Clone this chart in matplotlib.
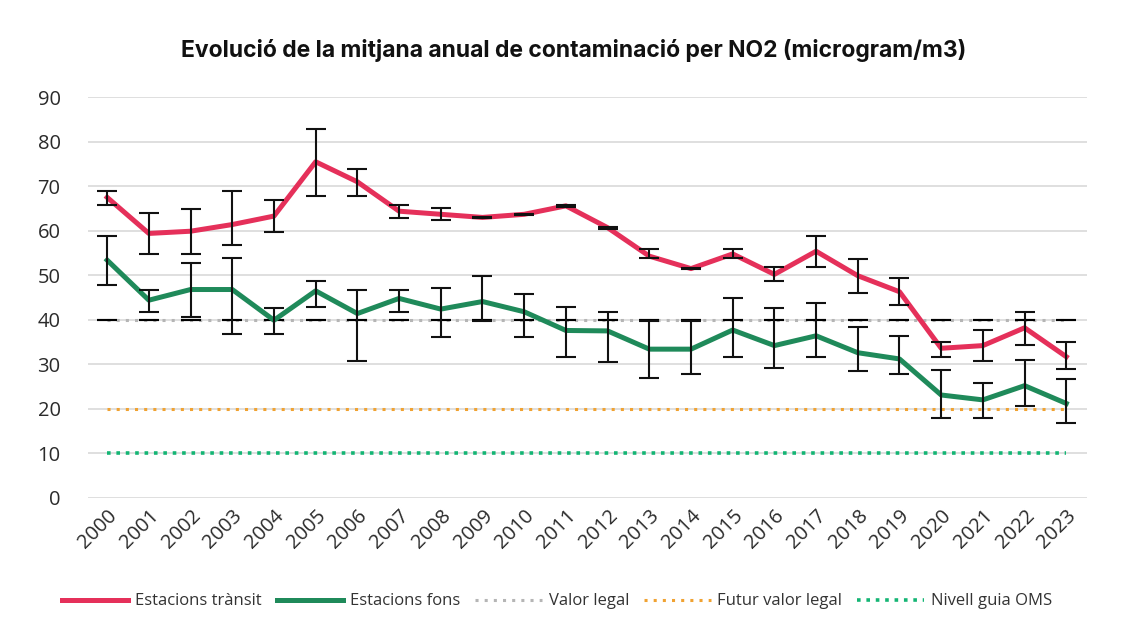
import numpy as np
import matplotlib.pyplot as plt

# -----------------------------
#  Dades
# -----------------------------
anys = np.arange(2000, 2024)

transit = [67.5, 59.4, 59.9, 61.4, 63.3, 75.5, 71.0, 64.4, 63.7, 63.0, 63.7, 65.6,
           60.7, 54.3, 51.5, 54.8, 50.2, 55.4, 49.9, 46.3, 33.6, 34.2, 38.2, 31.7]
transit_max = [68.9, 63.9, 64.9, 68.9, 66.9, 82.8, 73.8, 65.9, 65.2, 63.1, 63.8, 65.9,
               60.9, 55.8, 51.6, 55.8, 51.8, 58.8, 53.6, 49.3, 35.1, 37.7, 41.8, 34.9]
transit_min = [65.8, 54.8, 54.8, 56.8, 59.8, 67.8, 67.8, 62.9, 62.4, 62.9, 63.6, 65.3,
               60.5, 53.8, 51.4, 53.8, 48.8, 51.9, 46.1, 43.3, 31.7, 30.7, 34.3, 28.9]

fons = [53.4, 44.4, 46.8, 46.8, 39.9, 46.5, 41.4, 44.8, 42.4, 44.1, 41.8, 37.6,
        37.5, 33.4, 33.4, 37.7, 34.2, 36.4, 32.6, 31.2, 23.1, 22.0, 25.2, 21.2]
fons_max = [58.8, 46.7, 52.8, 53.9, 42.7, 48.8, 46.8, 46.7, 47.2, 49.9, 45.7, 42.8,
            41.8, 39.8, 39.8, 44.8, 42.7, 43.8, 38.4, 36.4, 28.7, 25.7, 31.0, 26.7]
fons_min = [47.8, 41.8, 40.7, 36.8, 36.8, 42.8, 30.8, 41.8, 36.2, 39.8, 36.2, 31.7,
            30.6, 27.0, 27.8, 31.7, 29.1, 31.7, 28.5, 27.8, 18.0, 17.9, 20.7, 16.8]

valor_legal = 40
futur_valor_legal = 20
guia_oms = 10

transit = np.array(transit)
fons = np.array(fons)
err_transit = [transit - np.array(transit_min), np.array(transit_max) - transit]
err_fons = [fons - np.array(fons_min), np.array(fons_max) - fons]

# -----------------------------
#  Gràfic
# -----------------------------
plt.rcParams['font.family'] = ['Open Sans', 'DejaVu Sans']

fig = plt.figure(figsize=(11.48, 6.44), dpi=100)
ax = fig.add_axes([0.077, 0.227, 0.870, 0.622])

vermell = "#e5305a"
verd = "#1f8a5a"

ax.plot(anys, np.full(len(anys), valor_legal), color="#b5b5b5", lw=2.2,
        linestyle=(0, (1, 2)), label="Valor legal", zorder=2)
ax.errorbar(anys, np.full(len(anys), valor_legal), yerr=0, fmt="none",
            ecolor="black", capsize=7, capthick=1.5, zorder=3)
ax.plot(anys, np.full(len(anys), futur_valor_legal), color="#f0a232", lw=2.2,
        linestyle=(0, (1, 2)), label="Futur valor legal", zorder=2)
ax.plot(anys, np.full(len(anys), guia_oms), color="#14b574", lw=2.6,
        linestyle=(0, (1, 1.6)), label="Nivell guia OMS", zorder=2)

ax.plot(anys, transit, color=vermell, lw=3.6, label="Estacions trànsit", zorder=4)
ax.plot(anys, fons, color=verd, lw=3.6, label="Estacions fons", zorder=4)
ax.errorbar(anys, transit, yerr=err_transit, fmt="none", ecolor="#111111",
            elinewidth=1.5, capsize=7, capthick=1.5, zorder=5)
ax.errorbar(anys, fons, yerr=err_fons, fmt="none", ecolor="#111111",
            elinewidth=1.5, capsize=7, capthick=1.5, zorder=5)

ax.set_xlim(1999.55, 2023.5)
ax.set_ylim(0, 90)
ax.set_yticks(np.arange(0, 91, 10))
ax.set_xticks(anys)
ax.set_xticklabels([str(a) for a in anys], rotation=45, ha="right",
                   rotation_mode="anchor")
ax.tick_params(axis="both", length=0, labelsize=14.5, colors="#2b2b2b")
ax.tick_params(axis="y", pad=20)
ax.tick_params(axis="x", pad=6)
ax.grid(axis="y", color="#dcdcdc", lw=1.3)
ax.set_axisbelow(True)
for s in ax.spines.values():
    s.set_visible(False)

fig.text(0.5, 0.922, "Evolució de la mitjana anual de contaminació per NO2 (microgram/m3)",
         ha="center", va="center", fontsize=16.5, fontweight="bold",
         family=["Inter", "DejaVu Sans"], color="#111111")

handles, labels = ax.get_legend_handles_labels()
ordre = [3, 4, 0, 1, 2]
fig.legend([handles[i] for i in ordre], [labels[i] for i in ordre],
           loc="center", bbox_to_anchor=(0.485, 0.066), ncol=5, frameon=False,
           fontsize=12, handlelength=4.0, handletextpad=0.4, columnspacing=0.9,
           labelcolor="#333333")

fig.savefig("out.png", dpi=100)
